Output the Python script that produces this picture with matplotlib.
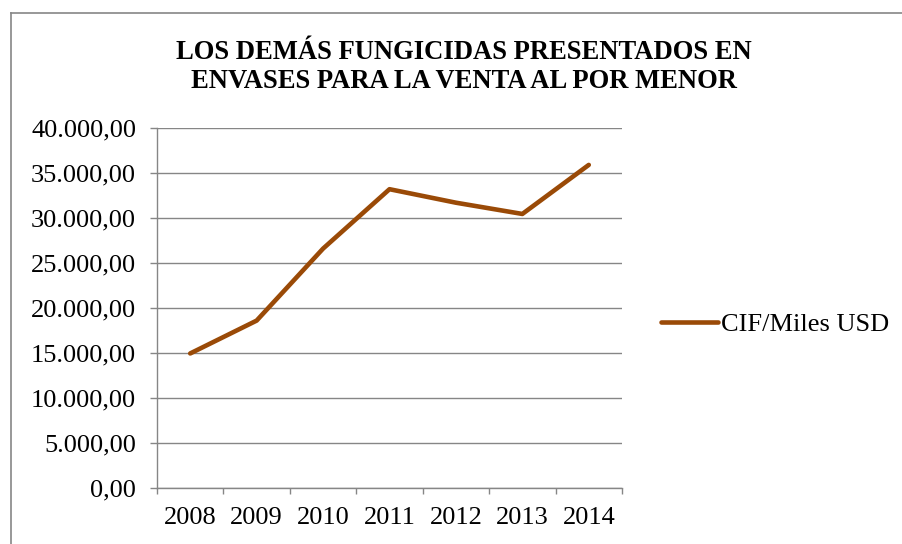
import matplotlib
matplotlib.use("Agg")
import matplotlib.pyplot as plt
from matplotlib.ticker import FuncFormatter, MultipleLocator, FixedLocator
from matplotlib.lines import Line2D

years = ["2008", "2009", "2010", "2011", "2012", "2013", "2014"]
cif_values = [14950, 18600, 26600, 33200, 31700, 30450, 35900]
series_label = "CIF/Miles USD"
title = "LOS DEMÁS FUNGICIDAS PRESENTADOS EN\nENVASES PARA LA VENTA AL POR MENOR"

W, H, DPI = 902, 544, 100
plt.rcParams['font.family'] = ['Liberation Serif', 'DejaVu Serif']

fig = plt.figure(figsize=(W / DPI, H / DPI), dpi=DPI)
fig.patch.set_facecolor('white')

left, right, top, bottom = 157, 622, 128, 488
ax = fig.add_axes([left / W, (H - bottom) / H, (right - left) / W, (bottom - top) / H])

x = list(range(len(years)))
line_color = '#9A4A07'
grid_color = '#868686'
ax.plot(x, cif_values, color=line_color, lw=3.3, solid_capstyle='round',
        solid_joinstyle='round', label=series_label)

ax.set_xlim(-0.5, len(years) - 0.5)
ax.set_ylim(0, 40000)
ax.yaxis.set_major_locator(MultipleLocator(5000))


def fmt(v, pos):
    s = f"{v:,.2f}"
    return s.replace(",", "X").replace(".", ",").replace("X", ".")


ax.yaxis.set_major_formatter(FuncFormatter(fmt))
ax.set_xticks(x)
ax.set_xticklabels(years)
ax.xaxis.set_minor_locator(FixedLocator([i - 0.5 for i in range(len(years) + 1)]))

ax.grid(axis='y', color=grid_color, lw=1.0)
ax.set_axisbelow(True)
for s in ['top', 'right']:
    ax.spines[s].set_visible(False)
for s in ['left', 'bottom']:
    ax.spines[s].set_color(grid_color)
    ax.spines[s].set_linewidth(1.0)

ax.tick_params(axis='y', which='major', length=5, color=grid_color, width=1.0,
               labelsize=19, pad=10)
ax.tick_params(axis='x', which='major', length=0, labelsize=19, pad=14)
ax.tick_params(axis='x', which='minor', length=4.5, color=grid_color, width=1.0)

fig.text(464 / W, 1 - 40 / H, title, ha='center', va='top', fontsize=19.2,
         fontweight='bold', linespacing=1.2)

leg = fig.legend(handles=[Line2D([0], [0], color=line_color, lw=3.3, solid_capstyle='round')],
                 labels=[series_label], loc='center left',
                 bbox_to_anchor=(661 / W, 1 - 324 / H), frameon=False,
                 fontsize=19, handlelength=2.15, handletextpad=0.12, borderpad=0,
                 borderaxespad=0)

# chart area border (left and top visible)
fig.add_artist(Line2D([11 / W, 11 / W], [0, 1 - 13 / H], color=grid_color, lw=1.2,
                      transform=fig.transFigure))
fig.add_artist(Line2D([11 / W, 1], [1 - 13 / H, 1 - 13 / H], color=grid_color, lw=1.2,
                      transform=fig.transFigure))

fig.savefig('out.png', dpi=DPI, facecolor='white')
